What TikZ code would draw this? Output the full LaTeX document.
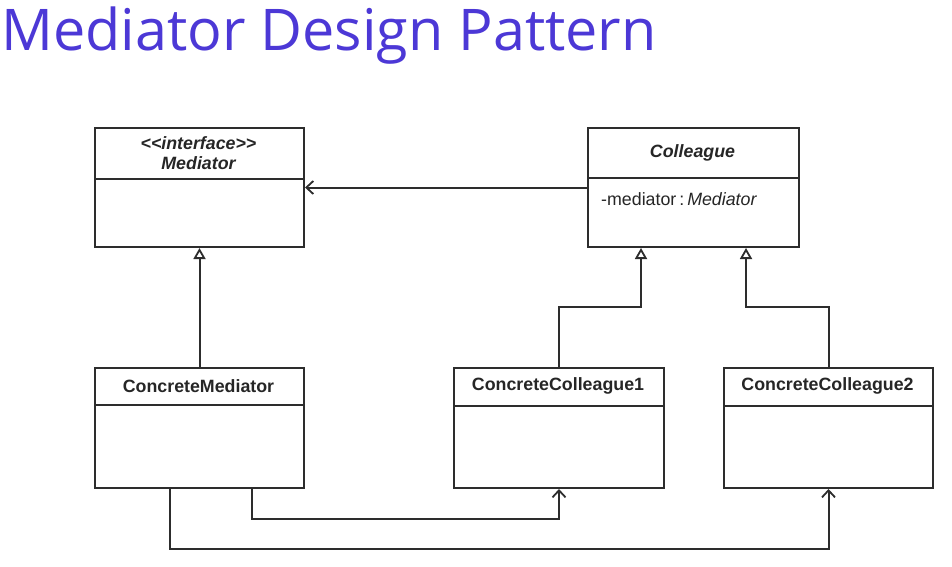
\documentclass[tikz,border=0pt]{standalone}
\usepackage{fontspec}
\setmainfont{Liberation Sans}
\newfontfamily\titlefont{Open Sans}
\usepackage{tikz}
\usetikzlibrary{positioning,calc,arrows.meta}
\usepackage{xcolor}
\definecolor{titleblue}{RGB}{76,56,214}
\definecolor{umlgray}{RGB}{45,45,45}

\begin{document}
\begin{tikzpicture}[x=1pt,y=-1pt,
  cls/.style={draw=umlgray, line width=2pt, fill=white, inner sep=0pt, anchor=north west},
  sep/.style={umlgray, line width=2pt},
  lbl/.style={font=\fontsize{17.8}{20}\selectfont\bfseries, text=black!85},
  inherit/.style={draw=umlgray, line width=2pt, -{Triangle[open, length=11pt, width=12pt, line width=1.8pt]}},
  assoc/.style={draw=umlgray, line width=2pt, -{Straight Barb[length=7pt, width=13pt, line width=1.8pt]}}]
\useasboundingbox (0,0) rectangle (952,566);
% title
\node[font=\titlefont\fontsize{57.5}{60}\selectfont, text=titleblue, anchor=base west, inner sep=0pt] (title) at (1,50) {Mediator Design Pattern};
% Mediator
\node[cls, minimum width=209pt, minimum height=119pt] (med) at (94,127) {};
\draw[sep] ($(med.north west)+(0,52)$) -- ($(med.north east)+(0,52)$);
\node[lbl, font=\fontsize{17.8}{20}\selectfont\bfseries\itshape, align=center] (medname) at (198.5,153) {{<}{<}interface{>}{>}\\Mediator};
% Colleague
\node[cls, minimum width=211pt, minimum height=119pt] (col) at (587,127) {};
\draw[sep] ($(col.north west)+(0,51)$) -- ($(col.north east)+(0,51)$);
\node[lbl, font=\fontsize{17.8}{20}\selectfont\bfseries\itshape] (colname) at (692.5,153) {Colleague};
\node[font=\fontsize{17.8}{20}\selectfont, text=black!85, anchor=west, inner sep=0pt] (colattr) at (601,199) {-mediator\,:\,\textit{Mediator}};
% concrete classes
\node[cls, minimum width=209pt, minimum height=120pt] (cmed) at (94,367) {};
\draw[sep] ($(cmed.north west)+(0,38)$) -- ($(cmed.north east)+(0,38)$);
\node[lbl] (cmedname) at (198.5,386) {ConcreteMediator};
\node[cls, minimum width=210pt, minimum height=120pt] (cc1) at (453,367) {};
\draw[sep] ($(cc1.north west)+(0,39)$) -- ($(cc1.north east)+(0,39)$);
\node[lbl] (cc1name) at (558,386) {ConcreteColleague1};
\node[cls, minimum width=209pt, minimum height=120pt] (cc2) at (723,367) {};
\draw[sep] ($(cc2.north west)+(0,39)$) -- ($(cc2.north east)+(0,39)$);
\node[lbl] (cc2name) at (827.5,386) {ConcreteColleague2};
% Colleague knows Mediator
\draw[assoc] (col.west) -- (col.west -| med.east);
% Generalizations
\draw[inherit] (cmed.north) -- (med.south);
\draw[inherit] (cc1.north) -- ++(0,-60) -| ($(col.south)+(-52.5,0)$);
\draw[inherit] (cc2.north) -- ++(0,-60) -| ($(col.south)+(52.5,0)$);
% ConcreteMediator knows the concrete colleagues
\draw[assoc] ($(cmed.south)+(52.5,0)$) -- ++(0,30) -| (cc1.south);
\draw[assoc] ($(cmed.south)+(-29.5,0)$) -- ++(0,60) -| (cc2.south);
\end{tikzpicture}
\end{document}
